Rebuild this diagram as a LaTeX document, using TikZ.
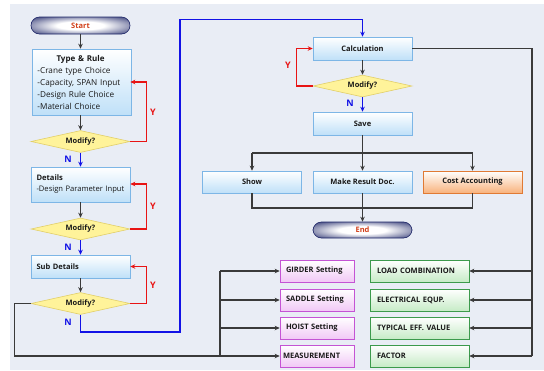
\documentclass[tikz,border=0pt]{standalone}
\usepackage{fontspec}
\setmainfont{Open Sans}
\usetikzlibrary{arrows.meta,shapes.geometric,calc}

\definecolor{panel}{HTML}{E9EDF5}
\definecolor{boxline}{HTML}{7DB6E6}
\definecolor{boxfill}{HTML}{BFE0F8}
\definecolor{dialine}{HTML}{E2CF6A}
\definecolor{diafill}{HTML}{FFF39A}
\definecolor{pinkline}{HTML}{C454D4}
\definecolor{pinkfill}{HTML}{F1C8F6}
\definecolor{greenline}{HTML}{3C9A4C}
\definecolor{greenfill}{HTML}{C6EBC6}
\definecolor{orangeline}{HTML}{E07A34}
\definecolor{orangefill}{HTML}{F8B27C}
\definecolor{navy}{HTML}{1C2466}
\definecolor{termtext}{HTML}{D2401A}
\definecolor{flowgray}{HTML}{3A3A3A}
\definecolor{flowblue}{HTML}{1212E6}
\definecolor{flowred}{HTML}{E81414}

% capsule glow: white centre fading to navy at the rim
\pgfdeclareradialshading{capsuleglow}{\pgfpoint{0bp}{0bp}}{%
  color(0bp)=(white); color(12bp)=(white); color(32bp)=(navy!75); color(44bp)=(navy); color(100bp)=(navy)}

\tikzset{
  bbase/.style={font=\fontsize{7.5}{9}\selectfont\bfseries, text=black!90, inner sep=0pt},
  procbox/.style={bbase, rectangle, draw=boxline, line width=0.6pt,
    top color=white, bottom color=boxfill, minimum width=99, minimum height=23},
  costbox/.style={procbox, draw=orangeline, bottom color=orangefill},
  setbox/.style={bbase, rectangle, draw=pinkline, line width=0.6pt,
    top color=white, bottom color=pinkfill, minimum width=74, minimum height=22,
    align=left, text width=62},
  databox/.style={bbase, rectangle, draw=greenline, line width=0.6pt,
    top color=white, bottom color=greenfill, minimum width=99, minimum height=22,
    align=left, text width=85},
  decide/.style={bbase, diamond, draw=dialine, line width=0.6pt, fill=diafill,
    minimum width=99, minimum height=22, aspect=4.5},
  terminal/.style={bbase, rectangle, rounded corners=8.5, draw=navy, line width=0.6pt,
    shading=capsuleglow, minimum width=99, minimum height=17, text=termtext},
  flow/.style={draw=flowgray, line width=1.3pt, -{Stealth[length=5pt,width=4.5pt]}},
  flowline/.style={draw=flowgray, line width=1.3pt},
  noflow/.style={draw=flowblue, line width=1.3pt, -{Stealth[length=5pt,width=4.5pt]}},
  yesflow/.style={draw=flowred, line width=1.3pt, -{Stealth[length=5pt,width=4.5pt]}},
  nlabel/.style={text=flowblue, font=\fontsize{9}{10}\selectfont\bfseries, inner sep=0pt},
  ylabel/.style={text=flowred, font=\fontsize{9}{10}\selectfont\bfseries, inner sep=0pt},
  notes/.style={align=left, text width=88, text=black!90},
}

\begin{document}
\begin{tikzpicture}[x=1pt,y=-1pt]
\useasboundingbox (0,0) rectangle (544,370);
\fill[white] (0,0) rectangle (544,370);
\fill[panel] (10,4) rectangle (544,370);

% left column: input steps
\node[terminal] (start) at (80.5,25.5) {Start};
\node[procbox, notes, minimum height=66, font=\fontsize{8.2}{12}\selectfont] (type) at (81.5,82)
  {\makebox[86pt][c]{\bfseries\fontsize{8}{12}\selectfont Type \& Rule}\\
   -Crane type Choice\\
   -Capacity, SPAN Input\\
   -Design Rule Choice\\
   -Material Choice};
\node[decide] (m1) at (80.5,141.5) {Modify?};
\node[procbox, notes, minimum height=35, font=\fontsize{7.6}{11}\selectfont] (det) at (80.5,184.5)
  {\textbf{Details}\\\mbox{-Design Parameter Input}};
\node[decide] (m2) at (80.5,229) {Modify?};
\node[procbox, notes] (sub) at (80.5,266.5) {\textbf{Sub Details}};
\node[decide] (m3) at (80.5,303.5) {Modify?};

% right column: calculation and output
\node[procbox] (calc) at (362.5,48.5) {Calculation};
\node[decide] (m4) at (362.5,86) {Modify?};
\node[procbox] (save) at (362.5,123.5) {Save};
\node[procbox, minimum height=22] (show) at (252,182) {Show};
\node[procbox, minimum height=22] (doc) at (362.5,182) {Make Result Doc.};
\node[costbox, minimum height=22] (cost) at (472.5,182) {Cost Accounting};
\node[terminal, minimum height=16] (end) at (362.5,230) {End};

% setting blocks
\node[setbox] (girder) at (317,271) {GIRDER Setting};
\node[setbox] (saddle) at (317,300) {SADDLE Setting};
\node[setbox] (hoist) at (317,328) {HOIST Setting};
\node[setbox] (meas) at (317,356) {\hspace*{-3pt}MEASUREMENT};
\node[databox] (load) at (419.5,271) {LOAD COMBINATION};
\node[databox] (elec) at (419.5,300) {ELECTRICAL EQUP.};
\node[databox] (eff) at (419.5,328) {TYPICAL EFF. VALUE};
\node[databox] (fac) at (419.5,356) {FACTOR};

% helper points
\coordinate (nturn) at (180,332);
\coordinate (ntop) at (180,19.5);
\coordinate (sbus) at (220,271);
\coordinate (rbus) at (532,48.5);
\coordinate (split) at (362.5,153);
\coordinate (merge) at (362.5,208);

% main flow
\draw[flow] (start) -- (type.north -| start);
\draw[flow] (type.south -| m1) -- (m1);
\draw[flow] (det) -- (m2);
\draw[flow] (sub) -- (m3);
\draw[flow] (calc) -- (m4);

% "no" branches
\draw[noflow] (m1) -- (det);
\draw[noflow] (m2) -- (sub);
\draw[noflow] (m4) -- (save);
\draw[noflow] (m3.south) |- (nturn) -- (ntop) -| (calc.north);
\node[nlabel] (n1) at (68,159) {N};
\node[nlabel] (n2) at (68,247) {N};
\node[nlabel] (n3) at (68,322) {N};
\node[nlabel] (n4) at (350,103.5) {N};

% "yes" loops
\draw[yesflow] (m1.east) -- ++(16,0) |- (type.east -| m1.east);
\draw[yesflow] (m2.east) -- ++(16,0) |- ($(det.east)+(0,-0.5)$);
\draw[yesflow] (m3.east) -- ++(16,0) |- (sub.east);
\draw[yesflow] (m4.west) -- ++(-16,0) |- (calc.west);
\node[ylabel] (y1) at (153,112) {Y};
\node[ylabel] (y2) at (153,206) {Y};
\node[ylabel] (y3) at (153,285) {Y};
\node[ylabel] (y4) at (288,65) {Y};

% output fan-out and merge
\draw[flowline] (save.south) -- (split);
\draw[flowline] (show.north |- split) -- (cost.north |- split);
\draw[flow] (show.north |- split) -- (show.north);
\draw[flow] (split) -- (doc.north);
\draw[flow] (cost.north |- split) -- (cost.north);
\draw[flowline] (show.south) -- (show.south |- merge) -- (cost.south |- merge) -- (cost.south);
\draw[flowline] (doc.south) -- (merge);
\draw[flow] (merge) -- (end.north);

% setting inputs from the sub-detail decision
\draw[flow] (m3.west) -- ++(-16,0) |- (meas.west);
\draw[flowline] (sbus) -- (sbus |- meas);
\draw[flow] (sbus) -- (girder.west);
\draw[flow] (sbus |- saddle) -- (saddle.west);
\draw[flow] (sbus |- hoist) -- (hoist.west);

% data supplied to the calculation
\draw[flowline] (calc.east) -- (rbus) -- (rbus |- fac);
\draw[flow] (rbus |- load) -- (load.east);
\draw[flow] (rbus |- elec) -- (elec.east);
\draw[flow] (rbus |- eff) -- (eff.east);
\draw[flow] (rbus |- fac) -- (fac.east);
\end{tikzpicture}
\end{document}
